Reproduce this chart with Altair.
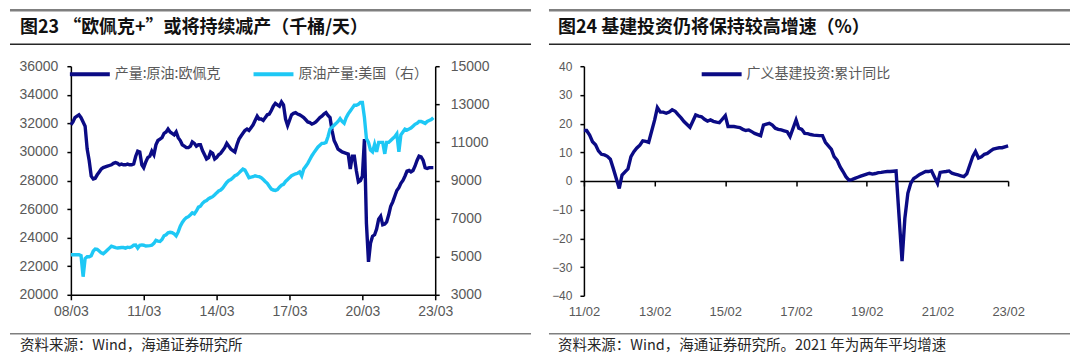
import altair as alt
import pandas as pd

NAVY = "#0B0B85"
CYAN = "#1EC8F5"
GREY_TXT = "#595959"
CJK = "Noto Sans CJK SC"
LAT = "Liberation Sans"

# ---------------- left panel data (monthly, 2008-03 .. 2023-02) ----------------
opec_label = "产量:原油:欧佩克"
us_label = "原油产量:美国（右）"
left_title = "图23 “欧佩克+”或将持续减产（千桶/天）"
left_source = "资料来源：Wind，海通证券研究所"

opec_values = [
    31900, 32100, 32400, 32500, 32600, 32400, 32100, 31800, 30200, 29400,            # 2008 Mar-Dec
    28300, 28100, 28150, 28400, 28600, 28800, 28900, 28950, 29000, 29050, 29100, 29200,  # 2009
    29250, 29200, 29100, 29150, 29100, 29100, 29150, 29100, 29100, 29150, 29700, 30050,  # 2010
    30000, 29100, 28900, 29300, 29600, 29700, 30050, 29800, 30500, 30800, 30900, 31000,  # 2011
    31300, 31400, 31600, 31400, 31300, 31200, 31400, 31000, 30800, 30500, 30400, 30300,  # 2012
    30300, 30400, 30700, 30600, 30400, 30500, 30500, 30100, 29800, 29500, 29600, 30000,  # 2013
    29900, 29500, 29600, 29800, 29900, 30100, 30300, 30600, 30400, 30200, 30100, 30000,  # 2014
    30500, 30900, 31100, 31300, 31500, 31600, 31500, 31700, 31900, 32200, 32500, 32300,  # 2015
    32300, 32200, 32400, 32600, 32650, 32900, 33200, 33400, 33300, 33200, 33500, 33300,  # 2016
    32300, 31850, 32200, 32600, 32700, 32750, 32650, 32600, 32500, 32400, 32250, 32100,  # 2017
    32050, 31950, 32000, 32100, 32250, 32400, 32500, 32650, 32750, 32550, 32400, 31500,  # 2018
    30800, 30500, 30200, 30100, 30000, 29950, 29900, 29850, 28800, 29700, 29700, 28700,  # 2019
    27900, 28000, 28300, 30900, 25000, 22300, 23600, 24100, 24200, 24600, 25300, 25500,  # 2020
    24900, 24950, 25100, 25600, 26200, 26500, 26900, 27300, 27500, 27800, 28000, 28300,  # 2021
    28650, 28700, 28600, 28700, 29000, 29400, 29700, 29650, 29400, 28900, 28850, 28900,  # 2022
    28900, 28900,                                                                      # 2023 Jan-Feb
]
us_values = [
    5100, 5100, 5100, 5100, 5100, 5050, 3950, 4900, 5000, 5000,                       # 2008 Mar-Dec
    5050, 5300, 5400, 5380, 5300, 5200, 5150, 5250, 5350, 5450, 5550, 5520,           # 2009
    5480, 5460, 5470, 5480, 5480, 5450, 5500, 5480, 5520, 5600, 5610, 5450,           # 2010
    5600, 5620, 5600, 5560, 5570, 5580, 5600, 5700, 5860, 5820, 5800, 5900,           # 2011
    6100, 6150, 6250, 6280, 6260, 6200, 6090, 6300, 6600, 6800, 6950, 7050,           # 2012
    7100, 7200, 7300, 7250, 7400, 7600, 7650, 7800, 7900, 7950, 8050, 8100,           # 2013
    8150, 8250, 8350, 8450, 8500, 8600, 8750, 8900, 9000, 9050, 9150, 9250,           # 2014
    9300, 9400, 9500, 9600, 9550, 9350, 9150, 9180, 9200, 9250, 9220, 9200,           # 2015
    9150, 9050, 8950, 8850, 8700, 8550, 8500, 8480, 8520, 8650, 8750, 8800,           # 2016
    8950, 9050, 9150, 9250, 9300, 9350, 9380, 9450, 9250, 9600, 9750, 9900,           # 2017
    10100, 10300, 10450, 10600, 10750, 10850, 10950, 10950, 11000, 11300, 11700, 11800,  # 2018
    11900, 12000, 12100, 12250, 12100, 12000, 12300, 12500, 12650, 12800, 12950, 12950,  # 2019
    13000, 13100, 13100, 12300, 11200, 11000, 10600, 10500, 10900, 10500, 11000, 11000,  # 2020
    11000, 10400, 11000, 11000, 11100, 11200, 11300, 11450, 10500, 11400, 11550, 11700,  # 2021
    11650, 11700, 11750, 11850, 11950, 12000, 12100, 12100, 12050, 12000, 12100, 12150,  # 2022
    12200, 12300,                                                                      # 2023 Jan-Feb
]
left_months = pd.date_range("2008-03-01", "2023-02-01", freq="MS").strftime("%Y/%m/%d").tolist()
left_tick_years = [2008, 2011, 2014, 2017, 2020, 2023]
left_y_ticks = [20000, 22000, 24000, 26000, 28000, 30000, 32000, 34000, 36000]
right_y2_ticks = [3000, 5000, 7000, 9000, 11000, 13000, 15000]

# ---------------- right panel data ----------------
infra_label = "广义基建投资:累计同比"
right_title = "图24 基建投资仍将保持较高增速（%）"
right_source = "资料来源：Wind，海通证券研究所。2021 年为两年平均增速"
infra_dates = [
    "2011/02", "2011/03", "2011/04", "2011/05", "2011/06", "2011/07", "2011/08", "2011/09", "2011/10", "2011/11", "2011/12",
    "2012/02", "2012/03", "2012/04", "2012/05", "2012/06", "2012/07", "2012/08", "2012/09", "2012/10", "2012/11", "2012/12",
    "2013/02", "2013/03", "2013/04", "2013/05", "2013/06", "2013/07", "2013/08", "2013/09", "2013/10", "2013/11", "2013/12",
    "2014/02", "2014/03", "2014/04", "2014/05", "2014/06", "2014/07", "2014/08", "2014/09", "2014/10", "2014/11", "2014/12",
    "2015/02", "2015/03", "2015/04", "2015/05", "2015/06", "2015/07", "2015/08", "2015/09", "2015/10", "2015/11", "2015/12",
    "2016/02", "2016/03", "2016/04", "2016/05", "2016/06", "2016/07", "2016/08", "2016/09", "2016/10", "2016/11", "2016/12",
    "2017/02", "2017/03", "2017/04", "2017/05", "2017/06", "2017/07", "2017/08", "2017/09", "2017/10", "2017/11", "2017/12",
    "2018/02", "2018/03", "2018/04", "2018/05", "2018/06", "2018/07", "2018/08", "2018/09", "2018/10", "2018/11", "2018/12",
    "2019/02", "2019/03", "2019/04", "2019/05", "2019/06", "2019/07", "2019/08", "2019/09", "2019/10", "2019/11", "2019/12",
    "2020/02", "2020/03", "2020/04", "2020/05", "2020/06", "2020/07", "2020/08", "2020/09", "2020/10", "2020/11", "2020/12",
    "2021/02", "2021/03", "2021/04", "2021/05", "2021/06", "2021/07", "2021/08", "2021/09", "2021/10", "2021/11", "2021/12",
    "2022/02", "2022/03", "2022/04", "2022/05", "2022/06", "2022/07", "2022/08", "2022/09", "2022/10", "2022/11", "2022/12",
    "2023/02",
]
infra_values = [
    17.6, 17.6, 16.0, 13.7, 12.6, 10.5, 9.3, 9.1, 8.6, 7.6, 4.4,
    -2.6, 2.1, 3.2, 4.2, 8.5, 10.2, 11.5, 12.5, 14.0, 13.8, 13.5,
    21.3, 25.6, 24.0, 24.0, 23.6, 24.0, 24.8, 24.3, 23.1, 22.0, 20.7,
    18.7, 20.7, 23.0, 22.6, 22.4, 21.5, 20.9, 21.3, 20.8, 20.5, 20.3,
    22.8, 19.0, 19.0, 19.0, 18.8, 18.6, 18.0, 17.6, 17.8, 17.2, 16.6,
    15.8, 19.5, 19.8, 20.1, 19.5, 18.4, 18.0, 17.8, 17.5, 17.2, 15.5,
    21.3, 18.4, 18.0, 16.6, 16.5, 16.2, 16.0, 15.9, 15.8, 15.8, 13.5,
    11.0, 8.5, 7.3, 5.0, 3.3, 1.5, 0.3, 0.5, 0.9, 1.3, 1.7,
    2.4, 2.7, 2.4, 2.6, 2.9, 3.0, 3.2, 3.3, 3.3, 3.4, 3.5,
    -27.9, -13.0, -4.3, -0.8, 0.9, 1.5, 2.3, 2.8, 3.3, 3.3, 3.6,
    -0.8, 3.0, 3.2, 3.3, 3.5, 2.7, 2.4, 2.1, 1.8, 1.5, 2.5,
    8.6, 10.3, 8.0, 8.4, 9.3, 9.6, 10.4, 11.1, 11.4, 11.6, 11.6,
    12.2,
]
right_tick_years = [2011, 2013, 2015, 2017, 2019, 2021, 2023]
right_y_ticks = [-40, -30, -20, -10, 0, 10, 20, 30, 40]

# ---------------- helpers ----------------
def dt(y, m):
    return alt.DateTime(year=y, month=m, date=1)


def decorations(x0, x1, text_x, title, source, src_line_y, src_text_y):
    one = pd.DataFrame({"k": [0]})
    base = alt.Chart(one)
    top = base.mark_rule(color="#7F7F7F", strokeWidth=2.5).encode(
        x=alt.value(x0), x2=alt.value(x1), y=alt.value(-56))
    mid = base.mark_rule(color="#262626", strokeWidth=1.3).encode(
        x=alt.value(x0), x2=alt.value(x1), y=alt.value(-22))
    bot = base.mark_rule(color="#7F7F7F", strokeWidth=1.5).encode(
        x=alt.value(x0), x2=alt.value(x1), y=alt.value(src_line_y))
    ttl = base.mark_text(align="left", baseline="middle", font=CJK, fontSize=18,
                         fontWeight="bold", color="#111111").encode(
        x=alt.value(text_x), y=alt.value(-38), text=alt.value(title))
    src = base.mark_text(align="left", baseline="middle", font=CJK, fontSize=14.5,
                         color="#262626").encode(
        x=alt.value(text_x), y=alt.value(src_text_y), text=alt.value(source))
    return [top, mid, bot, ttl, src]


axis_common = dict(title=None, grid=False, domainColor="#000000", tickColor="#000000",
                   domainWidth=1.5, tickWidth=1.5, labelColor=GREY_TXT, labelFont=LAT,
                   labelOverlap=False, labelFlush=False)

# ---------------- left panel ----------------
n = len(left_months)
left_df = pd.DataFrame({
    "date": left_months + left_months,
    "series": [opec_label] * n + [us_label] * n,
    "value": opec_values + us_values,
})

lx = alt.X("date:T",
           scale=alt.Scale(domain=[dt(2008, 3), dt(2023, 3)]),
           axis=alt.Axis(values=[dt(y, 3) for y in left_tick_years], format="%y/%m",
                         labelFontSize=14, tickSize=5, labelPadding=5, **axis_common))
lcolor = alt.Color("series:N",
                   scale=alt.Scale(domain=[opec_label, us_label], range=[NAVY, CYAN]),
                   legend=alt.Legend(title=None, orient="none", legendX=-3, legendY=-14,
                                     direction="horizontal", symbolType="stroke",
                                     symbolSize=1600, symbolStrokeWidth=4,
                                     labelFont=CJK, labelFontSize=14, labelColor=GREY_TXT,
                                     labelOffset=3, columnPadding=25))

lbase = alt.Chart(left_df).encode(x=lx, color=lcolor)
opec_line = lbase.transform_filter(alt.datum.series == opec_label).mark_line(
    strokeWidth=3.4).encode(
    y=alt.Y("value:Q", scale=alt.Scale(domain=[20000, 36000]),
            axis=alt.Axis(values=left_y_ticks, format="d", labelFontSize=14, tickSize=4,
                          labelPadding=9, **axis_common)))
us_line = lbase.transform_filter(alt.datum.series == us_label).mark_line(
    strokeWidth=3.4).encode(
    y=alt.Y("value:Q", scale=alt.Scale(domain=[3000, 15000]),
            axis=alt.Axis(orient="right", values=right_y2_ticks, format="d",
                          labelFontSize=14, tickSize=4, labelPadding=11, **axis_common)))

left_chart = alt.layer(
    opec_line, us_line,
    *decorations(-61, 461, -51, left_title, left_source, 268, 280)
).resolve_scale(y="independent").properties(width=365, height=229)

# ---------------- right panel ----------------
right_df = pd.DataFrame({"date": infra_dates, "series": infra_label, "value": infra_values})
rscale_x = alt.Scale(domain=[dt(2011, 2), dt(2023, 2)])
rscale_y = alt.Scale(domain=[-40, 40])
rvals = [dt(y, 2) for y in right_tick_years]
r_yaxis = alt.Axis(values=right_y_ticks, labelFontSize=12, tickSize=4,
                   labelPadding=8, **axis_common)

r_line = alt.Chart(right_df).mark_line(strokeWidth=3.4).encode(
    x=alt.X("date:T", scale=rscale_x,
            axis=alt.Axis(orient="bottom", values=rvals, format="%y/%m", labelFontSize=13,
                          domain=False, ticks=False, labelPadding=10, **axis_common)),
    y=alt.Y("value:Q", scale=rscale_y, axis=r_yaxis),
    color=alt.Color("series:N", scale=alt.Scale(domain=[infra_label], range=[NAVY]),
                    legend=alt.Legend(title=None, orient="none", legendX=116, legendY=-14,
                                      direction="horizontal", symbolType="stroke",
                                      symbolSize=1600, symbolStrokeWidth=4,
                                      labelFont=CJK, labelFontSize=14, labelColor=GREY_TXT,
                                      labelOffset=3)),
)
r_zero = alt.Chart(right_df).mark_line(strokeOpacity=0).encode(
    x=alt.X("date:T", scale=rscale_x,
            axis=alt.Axis(orient="bottom", values=rvals, labels=False, tickSize=5,
                          offset=-115, **axis_common)),
    y=alt.Y("value:Q", scale=rscale_y, axis=r_yaxis),
)

right_chart = alt.layer(
    r_line, r_zero,
    *decorations(-35, 487, -26, right_title, right_source, 268, 280)
).resolve_axis(x="independent").properties(width=425, height=230)

chart = alt.hconcat(left_chart, right_chart, spacing=149, bounds="flush").resolve_scale(
    color="independent"
).resolve_legend(color="independent").configure(
    padding=0, background="white"
).configure_view(stroke=None)

chart.save("out.html", embed_options={"renderer": "svg", "actions": False})
